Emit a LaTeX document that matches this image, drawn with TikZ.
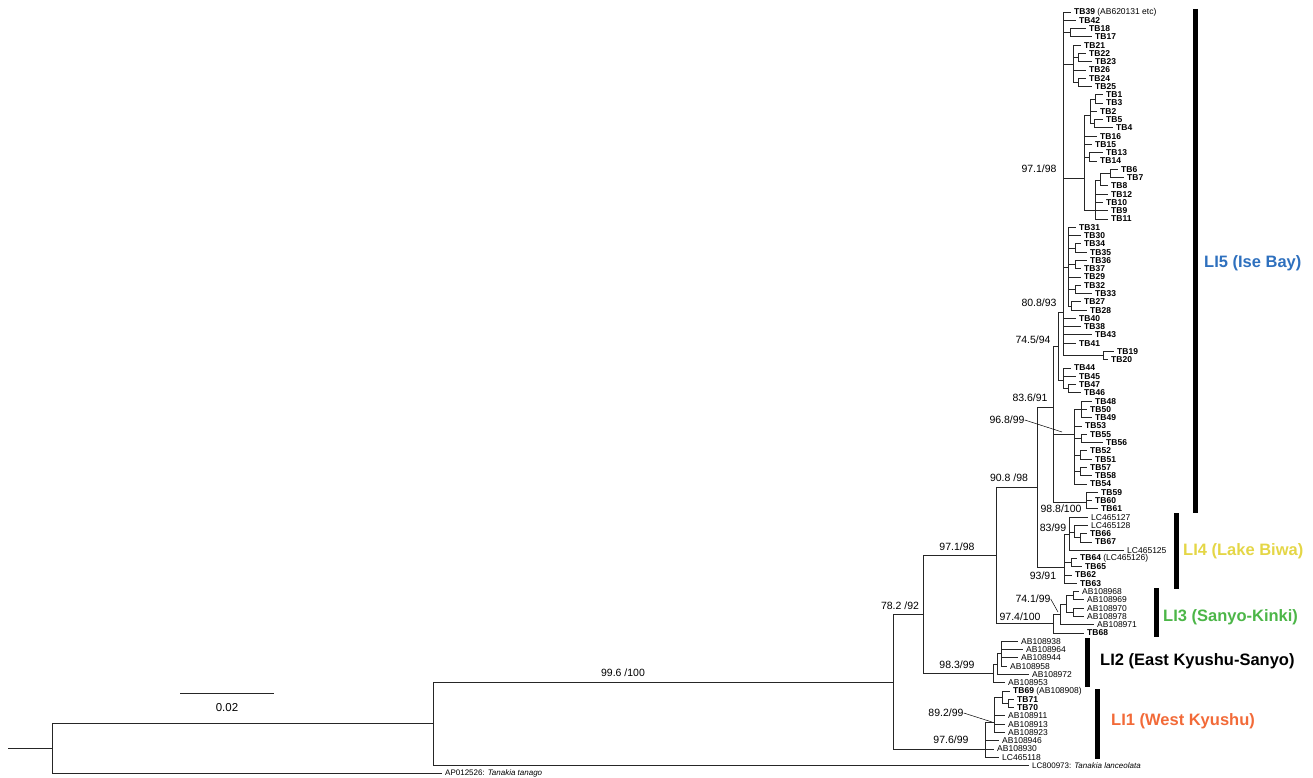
\documentclass[tikz,border=0pt]{standalone}
\usepackage{fontspec}
\setmainfont{Liberation Sans}
\usetikzlibrary{calc}
\definecolor{cblue}{RGB}{46,112,190}
\definecolor{cyel}{RGB}{228,214,70}
\definecolor{cgreen}{RGB}{76,182,72}
\definecolor{corange}{RGB}{242,106,56}
\tikzset{
  br/.style={line width=0.85pt, draw=black!85},
  tiplab/.style={anchor=west, inner sep=0pt, font=\fontsize{8.5}{9}\selectfont},
  outlab/.style={anchor=west, inner sep=0pt, font=\fontsize{8}{9}\selectfont},
  sup/.style={inner sep=0pt, font=\fontsize{10.5}{11}\selectfont},
  cbar/.style={line width=5pt},
  clab/.style={anchor=west, inner sep=0pt, font=\fontsize{16.5}{18}\selectfont\bfseries},
  ptr/.style={line width=0.5pt},
}
\newcommand\tp[3]{\coordinate (t#1) at (#2,{12+(#1-1)*8.28});
  \node[tiplab, xshift=3pt] (t#1l) at (t#1) {#3};}
\newcommand\tbx[3]{\tp{#1}{#2}{\textbf{TB#3}}}
\newcommand\ed[2]{\foreach \ch in {#2}{\draw[br] (#1) |- (\ch);}}
\begin{document}
\begin{tikzpicture}[x=1pt,y=-1pt]
\useasboundingbox (0,0) rectangle (1313,778);
% ---------- tips ----------
\tp{1}{1071}{\textbf{TB39} (AB620131 etc)}
\tbx{2}{1076}{42}
\tbx{3}{1086}{18}
\tbx{4}{1092}{17}
\tbx{5}{1081}{21}
\tbx{6}{1086}{22}
\tbx{7}{1092}{23}
\tbx{8}{1086}{26}
\tbx{9}{1086}{24}
\tbx{10}{1092}{25}
\tbx{11}{1103}{1}
\tbx{12}{1103}{3}
\tbx{13}{1097}{2}
\tbx{14}{1103}{5}
\tbx{15}{1113}{4}
\tbx{16}{1097}{16}
\tbx{17}{1092}{15}
\tbx{18}{1103}{13}
\tbx{19}{1097}{14}
\tbx{20}{1118}{6}
\tbx{21}{1124}{7}
\tbx{22}{1108}{8}
\tbx{23}{1108}{12}
\tbx{24}{1103}{10}
\tbx{25}{1108}{9}
\tbx{26}{1108}{11}
\tbx{27}{1076}{31}
\tbx{28}{1081}{30}
\tbx{29}{1081}{34}
\tbx{30}{1087}{35}
\tbx{31}{1087}{36}
\tbx{32}{1081}{37}
\tbx{33}{1081}{29}
\tbx{34}{1081}{32}
\tbx{35}{1092}{33}
\tbx{36}{1081}{27}
\tbx{37}{1087}{28}
\tbx{38}{1076}{40}
\tbx{39}{1081}{38}
\tbx{40}{1092}{43}
\tbx{41}{1076}{41}
\tbx{42}{1114}{19}
\tbx{43}{1108}{20}
\tbx{44}{1071}{44}
\tbx{45}{1076}{45}
\tbx{46}{1076}{47}
\tbx{47}{1081}{46}
\tbx{48}{1092}{48}
\tbx{49}{1087}{50}
\tbx{50}{1092}{49}
\tbx{51}{1082}{53}
\tbx{52}{1087}{55}
\tbx{53}{1103}{56}
\tbx{54}{1087}{52}
\tbx{55}{1092}{51}
\tbx{56}{1087}{57}
\tbx{57}{1092}{58}
\tbx{58}{1087}{54}
\tbx{59}{1098}{59}
\tbx{60}{1092}{60}
\tbx{61}{1098}{61}
\tp{62}{1088}{LC465127}
\tp{63}{1088}{LC465128}
\tbx{64}{1087}{66}
\tbx{65}{1092}{67}
\tp{66}{1124}{LC465125}
\tp{67}{1077}{\textbf{TB64} (LC465126)}
\tbx{68}{1082}{65}
\tbx{69}{1072}{62}
\tbx{70}{1077}{63}
\tp{71}{1079}{AB108968}
\tp{72}{1084}{AB108969}
\tp{73}{1084}{AB108970}
\tp{74}{1084}{AB108978}
\tp{75}{1094}{AB108971}
\tbx{76}{1084}{68}
\tp{77}{1018}{AB108938}
\tp{78}{1023}{AB108964}
\tp{79}{1018}{AB108944}
\tp{80}{1007}{AB108958}
\tp{81}{1029}{AB108972}
\tp{82}{1005}{AB108953}
\tp{83}{1010}{\textbf{TB69} (AB108908)}
\tbx{84}{1014}{71}
\tbx{85}{1014}{70}
\tp{86}{1005}{AB108911}
\tp{87}{1005}{AB108913}
\tp{88}{1005}{AB108923}
\tp{89}{999}{AB108946}
\tp{90}{994}{AB108930}
\tp{91}{999}{LC465118}
\coordinate (t92) at (1029,765.5);
\node[outlab, xshift=3pt] (t92l) at (t92) {LC800973: \textit{Tanakia lanceolata}};
\coordinate (t93) at (442,773.8);
\node[outlab, xshift=3pt] (t93l) at (t93) {AP012526: \textit{Tanakia tanago}};
% ---------- internal nodes ----------
\coordinate (R0) at (8,748.8);
\coordinate (R) at (52,748.8);
\coordinate (N433) at (433,723.7);
\coordinate (N893) at (893,682);
\coordinate (N923) at (923,614.4);
\coordinate (N996) at (996,555.4);
\coordinate (N1037) at (1037,487);
\coordinate (N1053) at (1053,407);
\coordinate (N1053b) at (1053,467);
\coordinate (N1058) at (1058,346);
\coordinate (N1063) at (1063,312);
\coordinate (G44) at (1063,380);
\coordinate (G47) at (1068,388.7);
\coordinate (G18) at (1070,32.7);
\coordinate (G21) at (1073,64);
\coordinate (G22) at (1078,57.6);
\coordinate (G24) at (1078,82.4);
\coordinate (Q) at (1084,178);
\coordinate (G1) at (1090,115);
\coordinate (G1a) at (1095,99);
\coordinate (G5) at (1094,123.8);
\coordinate (G13) at (1089,157);
\coordinate (G6) at (1095,210.7);
\coordinate (G6b) at (1100,180);
\coordinate (G67) at (1110,173.5);
\coordinate (G31) at (1068,267);
\coordinate (G34) at (1075,248);
\coordinate (G36) at (1075,264.5);
\coordinate (G32) at (1075,289.4);
\coordinate (G27) at (1071,306);
\coordinate (G19) at (1103,355.6);
\coordinate (N1073) at (1074,434);
\coordinate (G48) at (1081,409.4);
\coordinate (G55) at (1081,438.4);
\coordinate (G52) at (1080,455);
\coordinate (G57) at (1080,471.5);
\coordinate (N1085) at (1086,502);
\coordinate (L4) at (1064,567);
\coordinate (G83) at (1069,534);
\coordinate (G128) at (1074,532);
\coordinate (G66) at (1080,537.8);
\coordinate (G64) at (1071,562.6);
\coordinate (L3) at (1053,623.7);
\coordinate (L3a) at (1060,614.4);
\coordinate (L3b) at (1066,604);
\coordinate (L3c) at (1073,595.8);
\coordinate (L3d) at (1073,612.3);
\coordinate (L2) at (993,673.4);
\coordinate (L2a) at (997,664);
\coordinate (L2b) at (1001,653.7);
\coordinate (L1) at (985,749);
\coordinate (L1b) at (994,722);
\coordinate (L1c) at (1002,697);
\coordinate (L1d) at (1008,703.4);
% ---------- branches ----------
\draw[br] (R0) -- (R);
\ed{R}{N433,t93}
\ed{N433}{N893,t92}
\ed{N893}{N923,L1}
\ed{N923}{N996,L2}
\ed{N996}{N1037,L3}
\ed{N1037}{N1053,L4}
\ed{N1053}{N1058,N1053b}
\ed{N1053b}{N1073,N1085}
\ed{N1058}{N1063,G44}
\ed{N1063}{t1,t2,G18,G21,Q,G31,t38,t39,t40,t41,G19}
\ed{G18}{t3,t4}
\ed{G21}{t5,G22,t8,G24}
\ed{G22}{t6,t7}
\ed{G24}{t9,t10}
\ed{Q}{G1,t16,t17,G13,G6}
\ed{G1}{G1a,t13,G5}
\ed{G1a}{t11,t12}
\ed{G5}{t14,t15}
\ed{G13}{t18,t19}
\ed{G6}{G6b,t23,t24,t25,t26}
\ed{G6b}{G67,t22}
\ed{G67}{t20,t21}
\ed{G31}{t27,t28,G34,G36,t33,G32,G27}
\ed{G34}{t29,t30}
\ed{G36}{t31,t32}
\ed{G32}{t34,t35}
\ed{G27}{t36,t37}
\ed{G19}{t42,t43}
\ed{G44}{t44,t45,G47}
\ed{G47}{t46,t47}
\ed{N1073}{G48,t51,G55,G52,G57,t58}
\ed{G48}{t48,t49,t50}
\ed{G55}{t52,t53}
\ed{G52}{t54,t55}
\ed{G57}{t56,t57}
\ed{N1085}{t59,t60,t61}
\ed{L4}{G83,G64,t69,t70}
\ed{G83}{t62,G128,t66}
\ed{G128}{t63,G66}
\ed{G66}{t64,t65}
\ed{G64}{t67,t68}
\ed{L3}{L3a,t76}
\ed{L3a}{L3b,t75}
\ed{L3b}{L3c,L3d}
\ed{L3c}{t71,t72}
\ed{L3d}{t73,t74}
\ed{L2}{L2a,t82}
\ed{L2a}{L2b,t81}
\ed{L2b}{t77,t78,t79,t80}
\ed{L1}{L1b,t89,t90,t91}
\ed{L1b}{L1c,t86,t87,t88}
\ed{L1c}{t83,L1d}
\ed{L1d}{t84,t85}
% ---------- support values ----------
\node[sup] (s1) at (1039,169) {97.1/98};
\node[sup] (s2) at (1039,303) {80.8/93};
\node[sup] (s3) at (1033,340) {74.5/94};
\node[sup] (s4) at (1030,398) {83.6/91};
\node[sup] (s5) at (1007,420) {96.8/99};
\coordinate (p5) at (1062,432);
\draw[ptr] (s5.east) -- (p5);
\node[sup] (s6) at (1009,478) {90.8 /98};
\node[sup] (s7) at (1061,509) {98.8/100};
\node[sup] (s8) at (1053,528) {83/99};
\node[sup] (s9) at (1043,576) {93/91};
\node[sup] (s10) at (1033,599) {74.1/99};
\coordinate (p10) at (1058,612);
\draw[ptr] (s10.east) -- (p10);
\node[sup] (s11) at (1020,617) {97.4/100};
\node[sup] (s12) at (957,547) {97.1/98};
\node[sup] (s13) at (900,606) {78.2 /92};
\node[sup] (s14) at (957,665) {98.3/99};
\node[sup] (s15) at (623,673) {99.6 /100};
\node[sup] (s16) at (946,713) {89.2/99};
\coordinate (p16) at (992,722);
\draw[ptr] (s16.east) -- (p16);
\node[sup] (s17) at (951,740) {97.6/99};
% ---------- scale bar ----------
\coordinate (sb1) at (180,693);
\coordinate (sb2) at (274,693);
\draw[br] (sb1) -- (sb2);
\node[sup, font=\fontsize{11.5}{12}\selectfont] (sbl) at (227,708) {0.02};
% ---------- clade bars ----------
\coordinate (b5a) at (1195,9);   \coordinate (b5b) at (1195,513);
\coordinate (b4a) at (1176.5,513); \coordinate (b4b) at (1176.5,589);
\coordinate (b3a) at (1156,588); \coordinate (b3b) at (1156,637);
\coordinate (b2a) at (1087,638); \coordinate (b2b) at (1087,687);
\coordinate (b1a) at (1097.5,689); \coordinate (b1b) at (1097.5,759);
\draw[cbar] (b5a) -- (b5b);
\draw[cbar] (b4a) -- (b4b);
\draw[cbar] (b3a) -- (b3b);
\draw[cbar] (b2a) -- (b2b);
\draw[cbar] (b1a) -- (b1b);
\node[clab, text=cblue] (c5) at (1204,263) {LI5 (Ise Bay)};
\node[clab, text=cyel] (c4) at (1183,551) {LI4 (Lake Biwa)};
\node[clab, text=cgreen] (c3) at (1163,617) {LI3 (Sanyo-Kinki)};
\node[clab, text=black] (c2) at (1100,661) {LI2 (East Kyushu-Sanyo)};
\node[clab, text=corange] (c1) at (1111,721) {LI1 (West Kyushu)};
\end{tikzpicture}
\end{document}
